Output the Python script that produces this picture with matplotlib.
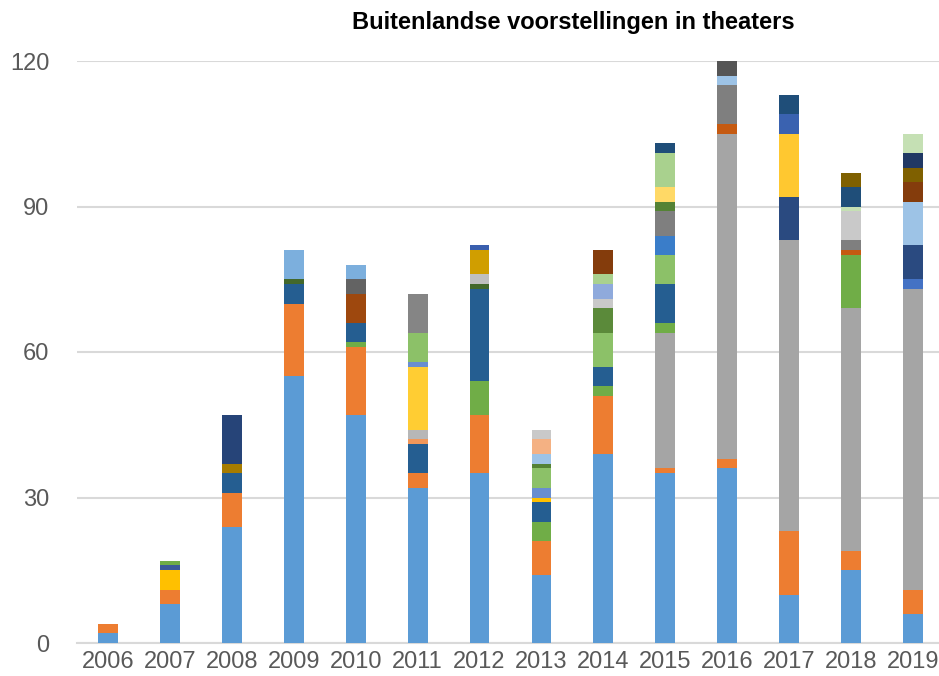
import numpy as np
import matplotlib
matplotlib.use('Agg')
import matplotlib.pyplot as plt

# stacked bars: every year has its own pile of segments (bottom -> top)
years = ['2006', '2007', '2008', '2009', '2010', '2011', '2012',
         '2013', '2014', '2015', '2016', '2017', '2018', '2019']

v2006 = [2, 2]
v2007 = [8, 3, 4, 1, 1]
v2008 = [24, 7, 4, 2, 10]
v2009 = [55, 15, 4, 1, 6]
v2010 = [47, 14, 1, 4, 6, 3, 3]
v2011 = [32, 3, 6, 1, 2, 13, 1, 6, 8]
v2012 = [35, 12, 7, 19, 1, 2, 5, 1]
v2013 = [14, 7, 4, 4, 1, 2, 4, 1, 2, 3, 2]
v2014 = [39, 12, 2, 4, 7, 5, 2, 3, 2, 5]
v2015 = [35, 1, 28, 2, 8, 6, 4, 5, 2, 3, 7, 2]
v2016 = [36, 2, 67, 2, 8, 2, 3]
v2017 = [10, 13, 60, 9, 13, 4, 4]
v2018 = [15, 4, 50, 11, 1, 2, 6, 1, 4, 3]
v2019 = [6, 5, 62, 2, 7, 9, 4, 3, 3, 4]

values = [v2006, v2007, v2008, v2009, v2010, v2011, v2012,
          v2013, v2014, v2015, v2016, v2017, v2018, v2019]

# colours (same order as the segments)
B, O, G = '#5B9BD5', '#ED7D31', '#A5A5A5'
colors = [
    [B, O],
    [B, O, '#FFC000', '#3B5A9A', '#70AD47'],
    [B, O, '#255E91', '#A67C00', '#264478'],
    [B, O, '#255E91', '#43682B', '#7CAFDD'],
    [B, O, '#70AD47', '#255E91', '#9E480E', '#636363', '#7CAFDD'],
    [B, O, '#255E91', '#F1975A', '#B7B7B7', '#FFCD33', '#698ED0', '#8CC168', '#858585'],
    [B, O, '#70AD47', '#255E91', '#43682B', '#BFBFBF', '#D09E00', '#3A5FAE'],
    [B, O, '#70AD47', '#255E91', '#FFC000', '#698ED0', '#8CC168', '#548235',
     '#9DC3E6', '#F4B183', '#C9C9C9'],
    [B, O, '#70AD47', '#255E91', '#8CC168', '#5B8A3A', '#C9C9C9', '#8FAADC',
     '#A9D18E', '#843C0C'],
    [B, O, G, '#70AD47', '#255E91', '#8CC168', '#3A7DC9', '#7F7F7F', '#548235',
     '#FFD966', '#A9D18E', '#1F4E79'],
    [B, O, G, '#C55A11', '#7F7F7F', '#9DC3E6', '#555555'],
    [B, O, G, '#2A4A80', '#FFC830', '#3A62B0', '#1F4E79'],
    [B, O, G, '#70AD47', '#C55A11', '#7F7F7F', '#C9C9C9', '#C5E0B4', '#1F4E79', '#7F6000'],
    [B, O, G, '#4472C4', '#2A4A80', '#9DC3E6', '#843C0C', '#7F6000', '#203864', '#C5E0B4'],
]

fig = plt.figure(figsize=(9.39, 6.76), dpi=100)
ax = fig.add_axes([77/939, 33/676, 867/939, 582/676])

x = np.arange(len(years))
for i in range(len(years)):
    bottom = 0
    for v, c in zip(values[i], colors[i]):
        ax.bar(x[i], v, bottom=bottom, width=0.32, color=c, linewidth=0, zorder=3)
        bottom += v

ax.set_xlim(-0.5, len(years) - 0.5)
ax.set_ylim(0, 120)
ax.set_yticks([0, 30, 60, 90, 120])
ax.set_xticks(x)
ax.set_xticklabels(years)

ax.yaxis.grid(True, color='#D9D9D9', linewidth=1.5, zorder=0)
for s in ['top', 'right', 'left']:
    ax.spines[s].set_visible(False)
ax.spines['bottom'].set_color('#D9D9D9')
ax.spines['bottom'].set_linewidth(1.5)
ax.tick_params(axis='both', length=0, labelsize=17, labelcolor='#595959')
ax.tick_params(axis='y', pad=20)
ax.tick_params(axis='x', pad=6)
for lab in ax.get_xticklabels() + ax.get_yticklabels():
    lab.set_family('Liberation Sans')

fig.text(573/939, 1 - 22/676, 'Buitenlandse voorstellingen in theaters',
         ha='center', va='center', fontsize=17, fontweight='bold',
         family='Liberation Sans', color='black')

fig.savefig('out.png', dpi=100)
